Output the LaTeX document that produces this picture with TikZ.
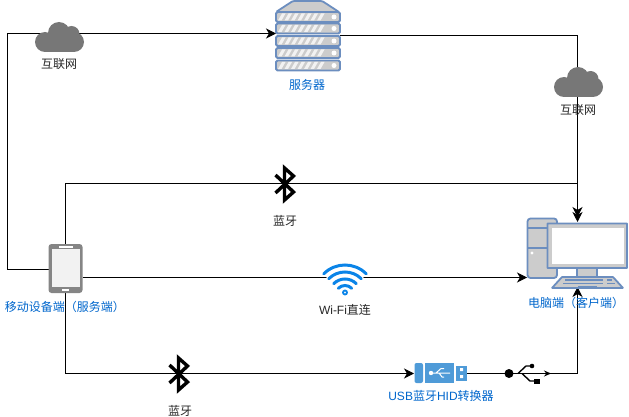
\documentclass[tikz,border=0pt]{standalone}
\usepackage{fontspec}
\setmainfont{Liberation Sans}
\newfontfamily\cjk{Noto Sans CJK SC}
\usetikzlibrary{arrows.meta,positioning,calc}
\definecolor{labelblue}{HTML}{0066CC}
\definecolor{iconblue}{HTML}{6C8EBF}
\definecolor{icongray}{HTML}{CCCCCC}
\definecolor{cloudgray}{HTML}{777777}
\definecolor{wifiblue}{HTML}{0A84E8}
\definecolor{usbblue}{HTML}{4F9BD8}
\tikzset{
  x=1pt,y=1pt,
  link/.style={draw=black,line width=1pt,-{Stealth[length=10pt,width=10pt,inset=3pt]}},
  iconbox/.style={inner sep=0pt,outer sep=0pt},
  graylabel/.style={font=\fontsize{12}{14}\selectfont\cjk,text=black!85},
  bluelabel/.style={font=\fontsize{12}{14}\selectfont\cjk,text=labelblue},
  part/.style={draw=iconblue,fill=icongray,line width=1.8pt,rounded corners=1.5pt},
  pics/cloudpic/.style={code={
    \fill[cloudgray] (-0.5,4) circle (11) (12,3) circle (8) (-14.5,-5) circle (10) (14.5,-5) circle (10);
    \fill[cloudgray] (-14.5,-15) rectangle (14.5,0);
  }},
  pics/btpic/.style={code={
    \draw[black,line width=3.4pt,line join=miter] (-9,9) -- (9,-8) -- (0,-16) -- (0,16) -- (9,8) -- (-9,-9);
  }}
}
\begin{document}
\begin{tikzpicture}
\useasboundingbox (0,0) rectangle (629,-417);
% nodes
\node (phone) at (65.5,-268.5) [iconbox,minimum width=34,minimum height=49]{};
\node (server) at (308,-35.5) [iconbox,minimum width=64,minimum height=71]{};
\node (pc) at (577.5,-256) [iconbox,minimum width=101,minimum height=68]{};
\node (usb) at (440.5,-373.5) [iconbox,minimum width=53,minimum height=20]{};
\node (cloudA) at (59.5,-37) [iconbox]{};
\node (cloudB) at (578.5,-82) [iconbox]{};
\node (btA) at (284.5,-184) [iconbox]{};
\node (btB) at (178.5,-374) [iconbox]{};
\coordinate (cornerA) at (7.5,-269.5);
\coordinate (cornerB) at (577.5,-183.5);

% connectors
\draw[link] ([yshift=-1]phone.west) -- (cornerA) |- ([yshift=2]server.west);
\draw[link] (server.east) -| (pc.north);
\draw[link] (phone.north) |- (cornerB) -- ([yshift=5]pc.north);
\draw[link] ([yshift=-9]phone.east) -- ([yshift=-21.5]pc.west);
\draw[link] (phone.south) |- (usb.west);
\draw[link] (usb.east) -| ([yshift=3]pc.south);

% clouds
\pic at (cloudA) {cloudpic};
\pic at (cloudB) {cloudpic};
\node at (59,-64) [graylabel]{互联网};
\node at (578,-110) [graylabel]{互联网};

% server
\draw[part] (276,-12) -- (293,-.9) -- (322,-.9) -- (339,-12) -- cycle;
\foreach \y in {-12,-23.5,-36,-48,-60.5}
{
  \draw[part] (276,\y) rectangle (340,\y-10);
  \fill[white] (334,\y-5) circle (2.5);
  \foreach \x in {0,1,2,3,4,5,6}
    \fill[white!95!black] (278+\x*6.5,\y-8.5) -- (281.5+\x*6.5,\y-8.5) -- (285.5+\x*6.5,\y-1.5) -- (282+\x*6.5,\y-1.5) -- cycle;
}
\node at (307,-85) [bluelabel]{服务器};

% bluetooth
\pic at (btA) {btpic};
\node at (285,-221) [graylabel]{蓝牙};
\pic at (btB) {btpic};
\node at (180,-411) [graylabel]{蓝牙};

% phone
\fill[cloudgray!90] ([xshift=-17,yshift=24.5]phone.center) [rounded corners=3pt] rectangle ++(34,-49);
\fill[white!95!black] ([xshift=-14,yshift=19.5]phone.center) rectangle ++(28,-38);
\fill[white] ([xshift=-7,yshift=22.5]phone.center) rectangle ++(14,-2);
\fill[white] ([xshift=-3.5,yshift=-20.5]phone.center) rectangle ++(7,-2);
\node at (65,-307) [bluelabel]{移动设备端（服务端）};

% wifi
\fill[white] (345,-296) -- (322,-273) arc (135:45:32.5) -- cycle;
\foreach \r in {30,23,16,9.5}
  \draw[wifiblue,line width=3pt,line cap=round] (345,-295)+(135:\r) arc (135:45:\r);
\draw[wifiblue,line width=1.8pt] (345,-292.5) circle (2);
\node at (345,-310) [font=\fontsize{12}{14}\selectfont,text=black!85]{Wi-Fi{\cjk 直连}};

% pc
\draw[part,rounded corners=3pt] (527.5,-218.5) rectangle (557,-278);
\draw[iconblue,line width=1.6pt] (527.5,-228) -- (557,-228) (527.5,-248) -- (557,-248);
\fill[white] (532,-253) circle (1.7);
\draw[iconblue,fill=icongray,line width=1.4pt] (577,-268) rectangle (597,-277);
\draw[part,rounded corners=.5pt] (547.5,-223.5) rectangle (627,-268);
\fill[white] (551.5,-227.5) rectangle (624,-264);
\draw[part,rounded corners=.5pt] (552,-288) -- (562,-277) -- (613,-277) -- (623,-288) -- cycle;
\draw[iconblue,line width=1.3pt] (565,-280) -- (603,-280) (607,-280) -- (612,-280)
  (563,-283.5) -- (603,-283.5) (607,-283.5) -- (615,-283.5) (578,-286.5) -- (597,-286.5);
\node at (576,-303) [bluelabel]{电脑端（客户端）};

% usb dongle
\fill[usbblue,rounded corners=2pt] (414.5,-363) rectangle (423,-383);
\fill[usbblue] (425,-363) rectangle (454,-383);
\fill[usbblue] (456,-366) rectangle (467,-381);
\fill[white] (460,-371) rectangle ++(3,3) (460,-378) rectangle ++(3,3);
\draw[white,line width=1pt] (431,-373) -- (450,-373) (436,-373) -- (441,-368.5) -- (444,-368.5) (439,-373) -- (442,-377) -- (444,-377);
\fill[white] (431,-373) circle (2.2);
\node at (441,-396) [bluelabel,font=\fontsize{12}{14}\selectfont]{USB{\cjk 蓝牙}HID{\cjk 转换器}};

% usb symbol
\draw[black,line width=1.4pt,-{Stealth[length=7pt,width=6pt]}] (508,-373.5) -- (551,-373.5);
\fill[black] (509,-373.5) circle (4.5);
\draw[black,line width=1.4pt] (518,-373.5) -- (526,-366) -- (531,-366) (522,-373.5) -- (530,-381) -- (535,-381);
\fill[black] (532,-366) circle (2.3);
\fill[black] (534,-384) rectangle (539.5,-378.5);
\end{tikzpicture}
\end{document}
